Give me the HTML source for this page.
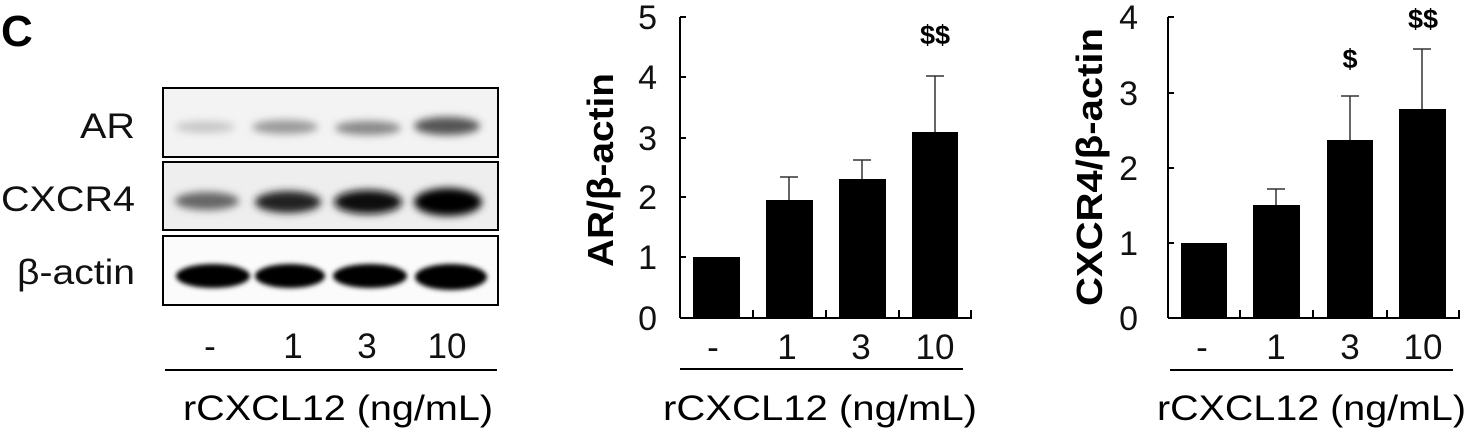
<!DOCTYPE html>
<html><head><meta charset="utf-8"><style>
html,body{margin:0;padding:0;background:#fff;}
svg{display:block;font-family:"Liberation Sans",Arial,sans-serif;}
</style></head><body>
<svg width="1468" height="432" viewBox="0 0 1468 432" xmlns="http://www.w3.org/2000/svg">
<defs>
<filter id="b1" x="-50%" y="-100%" width="200%" height="300%"><feGaussianBlur stdDeviation="4"/></filter>
<filter id="b2" x="-50%" y="-100%" width="200%" height="300%"><feGaussianBlur stdDeviation="2.5"/></filter>
</defs>
<rect width="1468" height="432" fill="#fff"/>
<text x="1" y="46" font-size="44" font-weight="bold">C</text>
<!-- blots -->
<rect x="163" y="88" width="335" height="69" fill="#f3f3f3" stroke="#000" stroke-width="2"/>
<rect x="163" y="162" width="335" height="68" fill="#eeeeee" stroke="#000" stroke-width="2"/>
<rect x="163" y="236" width="335" height="69" fill="#fbfbfb" stroke="#000" stroke-width="2"/>
<g filter="url(#b1)">
<ellipse cx="205" cy="127" rx="30" ry="6" fill="#c8c8c8"/>
<ellipse cx="285" cy="127" rx="33" ry="7" fill="#9a9a9a"/>
<ellipse cx="368" cy="128" rx="33" ry="7" fill="#888"/>
<ellipse cx="447" cy="126" rx="33" ry="9" fill="#555"/>
<ellipse cx="207" cy="201" rx="32" ry="9" fill="#666"/>
<ellipse cx="288" cy="202" rx="33" ry="11" fill="#222"/>
<ellipse cx="368" cy="202" rx="34" ry="12" fill="#111"/>
<ellipse cx="448" cy="202" rx="34" ry="14" fill="#000"/>
</g>
<g filter="url(#b2)">
<ellipse cx="213" cy="276" rx="37" ry="12" fill="#000"/>
<ellipse cx="290" cy="276" rx="35" ry="12" fill="#000"/>
<ellipse cx="370" cy="276" rx="37" ry="12" fill="#000"/>
<ellipse cx="451" cy="277" rx="36" ry="13" fill="#000"/>
</g>
<g font-size="35" fill="#111">
<text x="80" y="138" textLength="55" lengthAdjust="spacingAndGlyphs">AR</text>
<text x="1" y="211" textLength="134" lengthAdjust="spacingAndGlyphs">CXCR4</text>
<text x="17" y="284" textLength="118" lengthAdjust="spacingAndGlyphs">β-actin</text>
</g>
<g font-size="35" fill="#111" text-anchor="middle">
<text x="210" y="358">-</text><text x="293" y="358">1</text><text x="367" y="358">3</text><text x="447" y="358">10</text>
</g>
<line x1="165" y1="370" x2="497" y2="370" stroke="#000" stroke-width="2"/>
<text x="183" y="420" font-size="35" textLength="310" lengthAdjust="spacingAndGlyphs">rCXCL12 (ng/mL)</text>

<!-- chart 2 -->
<g stroke="#000" stroke-width="2">
<line x1="680" y1="17" x2="680" y2="318"/>
<line x1="680" y1="318" x2="972" y2="318"/>
<line x1="680" y1="17" x2="686" y2="17"/><line x1="680" y1="77" x2="686" y2="77"/><line x1="680" y1="138" x2="686" y2="138"/><line x1="680" y1="197" x2="686" y2="197"/><line x1="680" y1="257" x2="686" y2="257"/>
<line x1="753" y1="310" x2="753" y2="318"/><line x1="826" y1="310" x2="826" y2="318"/><line x1="899" y1="310" x2="899" y2="318"/><line x1="971" y1="310" x2="971" y2="318"/>
</g>
<g stroke="#333" stroke-width="1.5">
<line x1="789" y1="200" x2="789" y2="177"/><line x1="780" y1="177" x2="798" y2="177"/>
<line x1="862" y1="179" x2="862" y2="160"/><line x1="853" y1="160" x2="871" y2="160"/>
<line x1="935" y1="132" x2="935" y2="76"/><line x1="926" y1="76" x2="944" y2="76"/>
</g>
<g fill="#000">
<rect x="693" y="257" width="47" height="61"/>
<rect x="766" y="200" width="47" height="118"/>
<rect x="839" y="179" width="47" height="139"/>
<rect x="912" y="132" width="46" height="186"/>
</g>
<g font-size="34" fill="#111" text-anchor="end">
<text x="657" y="29">5</text><text x="657" y="89">4</text><text x="657" y="150">3</text><text x="657" y="209">2</text><text x="657" y="269">1</text><text x="657" y="330">0</text>
</g>
<text x="935" y="44" font-size="27" font-weight="bold" text-anchor="middle">$$</text>
<text transform="translate(613,170) rotate(-90)" font-size="36" font-weight="bold" text-anchor="middle" textLength="194" lengthAdjust="spacingAndGlyphs">AR/β-actin</text>
<g font-size="35" fill="#111" text-anchor="middle">
<text x="713" y="359">-</text><text x="787" y="359">1</text><text x="861" y="359">3</text><text x="935" y="359">10</text>
</g>
<line x1="680" y1="369" x2="963" y2="369" stroke="#000" stroke-width="2"/>
<text x="663" y="420" font-size="35" textLength="314" lengthAdjust="spacingAndGlyphs">rCXCL12 (ng/mL)</text>

<!-- chart 3 -->
<g stroke="#000" stroke-width="2">
<line x1="1168" y1="17" x2="1168" y2="318"/>
<line x1="1168" y1="318" x2="1460" y2="318"/>
<line x1="1168" y1="17" x2="1174" y2="17"/><line x1="1168" y1="93" x2="1174" y2="93"/><line x1="1168" y1="168" x2="1174" y2="168"/><line x1="1168" y1="243" x2="1174" y2="243"/>
<line x1="1240" y1="310" x2="1240" y2="318"/><line x1="1313" y1="310" x2="1313" y2="318"/><line x1="1387" y1="310" x2="1387" y2="318"/><line x1="1459" y1="310" x2="1459" y2="318"/>
</g>
<g stroke="#333" stroke-width="1.5">
<line x1="1276" y1="205" x2="1276" y2="189"/><line x1="1267" y1="189" x2="1285" y2="189"/>
<line x1="1350" y1="140" x2="1350" y2="96"/><line x1="1341" y1="96" x2="1359" y2="96"/>
<line x1="1422" y1="109" x2="1422" y2="49"/><line x1="1413" y1="49" x2="1431" y2="49"/>
</g>
<g fill="#000">
<rect x="1181" y="243" width="46" height="75"/>
<rect x="1253" y="205" width="47" height="113"/>
<rect x="1327" y="140" width="46" height="178"/>
<rect x="1399" y="109" width="47" height="209"/>
</g>
<g font-size="34" fill="#111" text-anchor="end">
<text x="1138" y="29">4</text><text x="1138" y="105">3</text><text x="1138" y="180">2</text><text x="1138" y="255">1</text><text x="1138" y="330">0</text>
</g>
<text x="1350" y="68" font-size="27" font-weight="bold" text-anchor="middle">$</text>
<text x="1423" y="28" font-size="27" font-weight="bold" text-anchor="middle">$$</text>
<text transform="translate(1102,167) rotate(-90)" font-size="36" font-weight="bold" text-anchor="middle" textLength="278" lengthAdjust="spacingAndGlyphs">CXCR4/β-actin</text>
<g font-size="35" fill="#111" text-anchor="middle">
<text x="1202" y="359">-</text><text x="1276" y="359">1</text><text x="1350" y="359">3</text><text x="1423" y="359">10</text>
</g>
<line x1="1170" y1="370" x2="1453" y2="370" stroke="#000" stroke-width="2"/>
<text x="1157" y="420" font-size="35" textLength="309" lengthAdjust="spacingAndGlyphs">rCXCL12 (ng/mL)</text>
</svg>
</body></html>
